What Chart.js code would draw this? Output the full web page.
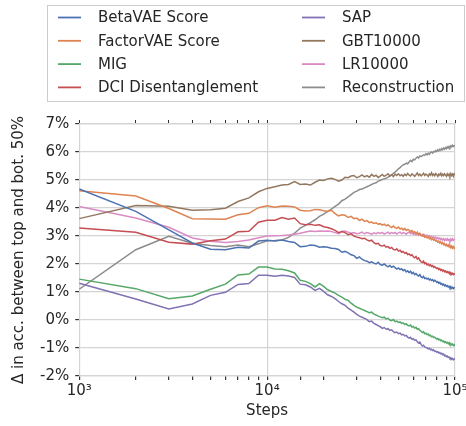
<!DOCTYPE html>
<html>
<head>
<meta charset="utf-8">
<script src="https://cdn.jsdelivr.net/npm/chart.js@4.4.0/dist/chart.umd.min.js"></script>
<style>
  html, body { margin: 0; padding: 0; background: #fff; }
  #wrap { width: 466px; height: 426px; }
</style>
</head>
<body>
<div id="wrap"><canvas id="chart" width="466" height="426"></canvas></div>
<script>
var steps = [1000,2000,3000,4000,5000,6000,7000,8000,9000,10000,
  11000,12000,13000,14000,15000,16000,17000,18000,19000,20000,
  21000,22000,23000,24000,25000,26000,27000,28000,29000,30000,
  31000,32000,33000,34000,35000,36000,37000,38000,39000,40000,
  41000,42000,43000,44000,45000,46000,47000,48000,49000,50000,
  51000,52000,53000,54000,55000,56000,57000,58000,59000,60000,
  61000,62000,63000,64000,65000,66000,67000,68000,69000,70000,
  71000,72000,73000,74000,75000,76000,77000,78000,79000,80000,
  81000,82000,83000,84000,85000,86000,87000,88000,89000,90000,
  91000,92000,93000,94000,95000,96000,97000,98000,99000,100000];

var betaVAE = [4.68,3.88,3.22,2.75,2.53,2.51,2.60,2.57,2.82,2.85,
  2.82,2.86,2.80,2.77,2.62,2.63,2.68,2.66,2.60,2.62,
  2.60,2.56,2.55,2.52,2.42,2.45,2.40,2.33,2.30,2.20,
  2.25,2.17,2.12,2.10,2.05,2.08,2.03,2.00,2.06,1.98,
  1.96,2.00,1.94,1.90,1.95,1.88,1.92,1.87,1.82,1.86,
  1.80,1.83,1.76,1.80,1.72,1.76,1.69,1.74,1.66,1.70,
  1.62,1.66,1.60,1.57,1.62,1.54,1.51,1.56,1.48,1.50,
  1.46,1.49,1.43,1.46,1.41,1.44,1.38,1.42,1.39,1.34,
  1.37,1.31,1.34,1.28,1.30,1.25,1.28,1.22,1.25,1.20,
  1.23,1.18,1.21,1.15,1.19,1.13,1.17,1.12,1.16,1.15];

var factorVAE = [4.62,4.43,3.98,3.62,3.61,3.60,3.76,3.81,4.01,4.08,
  4.03,4.07,4.06,4.04,3.92,3.89,3.90,3.95,3.94,3.90,
  3.88,3.92,3.80,3.72,3.76,3.74,3.66,3.70,3.62,3.64,
  3.56,3.60,3.52,3.55,3.48,3.50,3.45,3.47,3.42,3.44,
  3.39,3.42,3.36,3.40,3.34,3.30,3.36,3.30,3.27,3.32,
  3.25,3.28,3.22,3.27,3.20,3.24,3.21,3.15,3.20,3.12,
  3.16,3.08,3.14,3.05,3.10,3.02,3.00,3.05,2.96,2.99,
  2.93,2.97,2.90,2.94,2.87,2.91,2.85,2.88,2.82,2.84,
  2.78,2.82,2.75,2.79,2.72,2.76,2.69,2.73,2.66,2.70,
  2.64,2.68,2.61,2.66,2.58,2.64,2.57,2.62,2.56,2.60];

var mig = [1.46,1.12,0.76,0.86,1.10,1.28,1.61,1.64,1.89,1.89,
  1.82,1.81,1.76,1.68,1.42,1.38,1.30,1.18,1.30,1.20,
  1.08,1.02,0.96,0.88,0.82,0.74,0.70,0.60,0.52,0.46,
  0.42,0.38,0.34,0.30,0.26,0.28,0.21,0.18,0.14,0.11,
  0.08,0.10,0.04,0.06,0.00,-0.02,0.02,-0.06,-0.04,-0.09,
  -0.07,-0.12,-0.10,-0.16,-0.13,-0.19,-0.21,-0.18,-0.25,-0.23,
  -0.29,-0.26,-0.33,-0.31,-0.37,-0.40,-0.45,-0.42,-0.49,-0.47,
  -0.52,-0.50,-0.56,-0.54,-0.60,-0.58,-0.63,-0.61,-0.65,-0.68,
  -0.66,-0.71,-0.69,-0.74,-0.72,-0.77,-0.75,-0.80,-0.78,-0.82,
  -0.80,-0.85,-0.81,-0.87,-0.84,-0.89,-0.86,-0.91,-0.88,-0.92];

var dci = [3.29,3.13,2.78,2.71,2.83,2.89,3.15,3.17,3.49,3.56,
  3.56,3.66,3.60,3.64,3.44,3.40,3.42,3.38,3.40,3.33,
  3.30,3.26,3.20,3.12,3.16,3.12,3.05,3.08,3.00,2.96,
  2.94,2.90,2.92,2.86,2.82,2.85,2.76,2.72,2.74,2.66,
  2.64,2.67,2.60,2.62,2.56,2.59,2.52,2.50,2.54,2.46,
  2.49,2.42,2.45,2.38,2.41,2.34,2.36,2.30,2.33,2.26,
  2.22,2.27,2.18,2.22,2.13,2.08,2.05,2.10,2.01,2.04,
  1.97,2.00,1.94,1.97,1.91,1.94,1.88,1.91,1.87,1.84,
  1.86,1.80,1.83,1.77,1.80,1.75,1.78,1.72,1.75,1.70,
  1.73,1.68,1.72,1.66,1.69,1.63,1.67,1.62,1.65,1.63];

var sap = [1.31,0.75,0.39,0.57,0.88,0.99,1.27,1.30,1.60,1.60,
  1.56,1.60,1.57,1.52,1.28,1.26,1.18,1.06,1.13,1.02,
  0.90,0.84,0.76,0.66,0.58,0.52,0.42,0.35,0.28,0.20,
  0.14,0.10,0.06,0.01,-0.06,-0.04,-0.12,-0.16,-0.20,-0.24,
  -0.30,-0.27,-0.33,-0.31,-0.37,-0.35,-0.42,-0.45,-0.43,-0.49,
  -0.47,-0.53,-0.51,-0.57,-0.55,-0.61,-0.65,-0.62,-0.69,-0.67,
  -0.73,-0.71,-0.78,-0.82,-0.79,-0.87,-0.93,-0.90,-0.96,-0.98,
  -1.00,-1.03,-1.01,-1.06,-1.04,-1.09,-1.07,-1.12,-1.11,-1.15,
  -1.13,-1.18,-1.16,-1.21,-1.19,-1.24,-1.22,-1.28,-1.26,-1.31,
  -1.29,-1.34,-1.32,-1.37,-1.35,-1.40,-1.37,-1.42,-1.39,-1.41];

var gbt = [3.62,4.09,4.06,3.92,3.94,3.99,4.23,4.36,4.58,4.70,
  4.76,4.82,4.84,4.94,4.84,4.86,4.82,4.92,5.00,4.98,
  5.04,5.06,5.02,4.96,5.00,5.10,5.08,5.14,5.16,5.08,
  5.12,5.18,5.11,5.16,5.10,5.20,5.13,5.17,5.09,5.14,
  5.20,5.13,5.17,5.22,5.14,5.19,5.12,5.21,5.16,5.22,
  5.15,5.19,5.13,5.21,5.16,5.23,5.17,5.14,5.22,5.18,
  5.13,5.19,5.25,5.16,5.21,5.15,5.19,5.24,5.16,5.21,
  5.18,5.13,5.22,5.17,5.26,5.16,5.21,5.15,5.23,5.19,
  5.13,5.21,5.17,5.24,5.15,5.21,5.16,5.22,5.18,5.13,
  5.22,5.16,5.21,5.14,5.23,5.16,5.21,5.13,5.22,5.18];

var lr = [4.05,3.64,3.31,2.93,2.81,2.77,2.80,2.86,2.94,3.00,
  3.01,3.02,3.04,3.06,3.10,3.14,3.18,3.16,3.18,3.17,
  3.18,3.16,3.12,3.08,3.16,3.18,3.14,3.10,3.12,3.08,
  3.10,3.14,3.08,3.12,3.10,3.06,3.11,3.08,3.12,3.09,
  3.13,3.07,3.10,3.14,3.08,3.12,3.09,3.13,3.07,3.11,
  3.14,3.08,3.12,3.10,3.06,3.11,3.14,3.08,3.12,3.06,
  3.10,3.04,3.09,3.03,3.07,3.02,3.06,3.00,3.04,2.98,
  3.03,2.97,3.01,2.95,2.99,2.94,2.97,2.92,2.96,2.90,
  2.94,2.89,2.93,2.87,2.91,2.86,2.90,2.84,2.89,2.85,
  2.90,2.84,2.88,2.83,2.89,2.84,2.90,2.85,2.88,2.86];

var recon = [1.10,2.51,2.99,2.74,2.66,2.62,2.68,2.62,2.72,2.83,
  2.84,2.86,2.95,3.10,3.28,3.38,3.48,3.58,3.70,3.78,
  3.88,3.96,4.06,4.14,4.26,4.32,4.40,4.48,4.56,4.60,
  4.66,4.68,4.72,4.76,4.80,4.84,4.88,4.90,4.96,4.98,
  5.02,5.04,5.06,5.10,5.14,5.18,5.24,5.28,5.34,5.40,
  5.44,5.50,5.54,5.56,5.60,5.58,5.64,5.70,5.66,5.74,
  5.72,5.78,5.82,5.78,5.86,5.84,5.86,5.90,5.88,5.94,
  5.90,5.96,5.92,5.98,6.00,5.96,6.02,6.00,6.05,6.02,
  6.08,6.04,6.10,6.06,6.12,6.08,6.14,6.10,6.16,6.12,
  6.18,6.14,6.20,6.16,6.22,6.18,6.24,6.20,6.22,6.24];

var names = ['BetaVAE Score','FactorVAE Score','MIG','DCI Disentanglement',
  'SAP','GBT10000','LR10000','Reconstruction'];
var colors = ['#4c72b0','#dd8452','#55a868','#c44e52','#8172b3','#937860','#da8bc3','#8c8c8c'];
var series = [betaVAE, factorVAE, mig, dci, sap, gbt, lr, recon];

var supLabels = {1000: '10³', 10000: '10⁴', 100000: '10⁵'};
var gridCol = '#d4d4d4';

Chart.defaults.font.family = 'DejaVu Sans';
Chart.defaults.font.size = 15;
Chart.defaults.color = '#262626';

// legend in two columns, drawn inside a thin box above the plot
var boxLegend = {
  id: 'boxLegend',
  afterDraw: function(chart) {
    var c = chart.ctx;
    c.save();
    c.strokeStyle = '#cccccc';
    c.lineWidth = 1;
    c.strokeRect(47.5, 5.5, 417, 96);
    c.font = '15px "DejaVu Sans"';
    c.textBaseline = 'middle';
    c.fillStyle = '#262626';
    chart.data.datasets.forEach(function(ds, i) {
      var col = Math.floor(i / 4), row = i % 4;
      var x0 = col ? 302 : 58;
      var y = 17.5 + row * 23.3;
      c.strokeStyle = ds.borderColor;
      c.lineWidth = 1.8;
      c.beginPath();
      c.moveTo(x0, y);
      c.lineTo(x0 + 23, y);
      c.stroke();
      c.fillText(ds.label, x0 + 40, y + 1);
    });
    c.restore();
  }
};

var ctx = document.getElementById('chart').getContext('2d');
var myChart = new Chart(ctx, {
  type: 'line',
  data: {
    labels: steps,
    datasets: series.map(function(vals, i) {
      return {
        label: names[i],
        data: vals,
        borderColor: colors[i],
        backgroundColor: colors[i],
        borderWidth: 1.5,
        pointRadius: 0,
        tension: 0,
        fill: false
      };
    })
  },
  plugins: [boxLegend],
  options: {
    responsive: false,
    animation: false,
    layout: { padding: { top: 120, right: 11, left: 10, bottom: 6 } },
    plugins: {
      legend: { display: false },
      tooltip: { enabled: false }
    },
    scales: {
      x: {
        type: 'logarithmic',
        min: 1000,
        max: 100000,
        afterFit: function(s) { s.paddingRight = 0; },
        border: { display: true, color: gridCol, width: 1.2 },
        grid: {
          color: function(c) { return c.tick && c.tick.value === 10000 ? gridCol : 'rgba(0,0,0,0)'; },
          tickColor: '#333',
          tickLength: 4,
          lineWidth: 1.2
        },
        ticks: {
          autoSkip: false,
          maxRotation: 0,
          padding: 2,
          callback: function(v) { return supLabels[v] || ''; }
        },
        title: { display: true, text: 'Steps', padding: { top: 0, bottom: 0 } }
      },
      xTop: {
        type: 'logarithmic',
        position: 'top',
        min: 1000,
        max: 100000,
        border: { display: true, color: gridCol, width: 1.2 },
        grid: { drawOnChartArea: false, tickColor: '#333', tickLength: 4 },
        ticks: { display: false, autoSkip: false }
      },
      y: {
        min: -2,
        max: 7,
        border: { display: true, color: gridCol, width: 1.2 },
        grid: { color: gridCol, lineWidth: 1.2, tickColor: '#333', tickLength: 4 },
        ticks: {
          stepSize: 1,
          padding: 6,
          callback: function(v) { return v + '%'; }
        },
        title: { display: true, text: 'Δ in acc. between top and bot. 50%', padding: { top: 0, bottom: 6 } }
      },
      yRight: {
        position: 'right',
        min: -2,
        max: 7,
        border: { display: true, color: gridCol, width: 1.2 },
        grid: { drawOnChartArea: false, drawTicks: false },
        ticks: { display: false }
      }
    }
  }
});
</script>
</body>
</html>
